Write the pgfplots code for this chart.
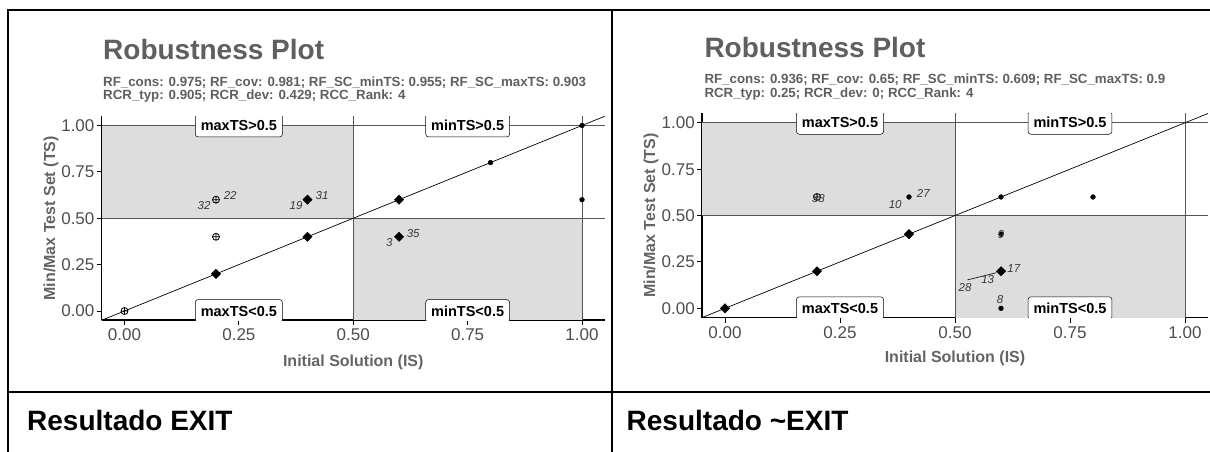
\documentclass[border=0pt]{standalone}
\usepackage{fontspec}
\setmainfont{Liberation Sans}
\usepackage{pgfplots}
\pgfplotsset{compat=1.18}
\usetikzlibrary{plotmarks}
\definecolor{titlegray}{RGB}{95,95,95}
\definecolor{subgray}{RGB}{95,95,95}
\definecolor{tickgray}{RGB}{77,77,77}
\definecolor{labgray}{RGB}{100,100,100}
\definecolor{regionfill}{RGB}{221,221,221}
\definecolor{refline}{RGB}{85,85,85}
\definecolor{ptlab}{RGB}{55,55,55}

\tikzset{
  qbox/.style={draw=black, line width=0.5pt, rounded corners=3pt, fill=white,
    font=\fontsize{14.5}{14.5}\selectfont\bfseries, text=black,
    inner xsep=5.5pt, minimum height=23pt},
}
\pgfplotsset{
  robstyle/.style={
    scale only axis,
    xmin=-0.05, xmax=1.05, ymin=-0.05, ymax=1.05,
    axis x line*=bottom, axis y line*=left,
    axis line style={-, black, line width=1.6pt},
    xtick={0,0.25,0.5,0.75,1}, ytick={0,0.25,0.5,0.75,1},
    xticklabels={0.00,0.25,0.50,0.75,1.00},
    yticklabels={0.00,0.25,0.50,0.75,1.00},
    tick align=outside, major tick length=5pt,
    tick style={black, line width=0.9pt},
    ticklabel style={font=\fontsize{17}{17}\selectfont, text=tickgray},
    yticklabel style={inner xsep=2pt},
    xlabel={Initial Solution (IS)}, ylabel={Min/Max Test Set (TS)},
    label style={font=\fontsize{16}{16}\selectfont\bfseries, text=labgray},
    clip=true,
  },
  dots/.style={only marks, mark=*, mark size=2.4pt, black},
  diam/.style={only marks, mark=square*, mark size=3.3pt, mark options={rotate=45}, black},
  oplusm/.style={only marks, mark=oplus, mark size=3.5pt, mark options={line width=0.8pt}, black},
  ptlabels/.style={draw=none, nodes near coords, point meta=explicit symbolic,
    every node near coord/.append style={anchor=center, inner sep=0pt,
      font=\fontsize{11.5}{11.5}\selectfont\itshape, text=ptlab}},
  region/.style={fill=regionfill, draw=none},
  rline/.style={refline, line width=0.8pt},
}

\begin{document}
\begin{tikzpicture}
\useasboundingbox (0pt,0pt) rectangle (1210pt,452pt);

% ---------------- Left panel: EXIT ----------------
\begin{axis}[robstyle,
  at={(101.6pt,131.7pt)}, anchor=south west,
  width=503.3pt, height=204.1pt,
  x label style={at={(axis description cs:0.5,-0.2043)}, anchor=center},
  y label style={at={(axis description cs:-0.1005,0.5)}, anchor=center},
]
\addplot[region] coordinates {(-0.05,0.5) (0.5,0.5) (0.5,1) (-0.05,1)} -- cycle;
\addplot[region] coordinates {(0.5,-0.05) (1,-0.05) (1,0.5) (0.5,0.5)} -- cycle;
\addplot[rline] coordinates {(-0.05,0.5) (1.05,0.5)};
\addplot[rline] coordinates {(-0.05,1) (1.05,1)};
\addplot[rline] coordinates {(0.5,-0.05) (0.5,1.05)};
\addplot[rline] coordinates {(1,-0.05) (1,1.05)};
\addplot[black, line width=0.7pt] coordinates {(-0.05,-0.05) (1.05,1.05)};
\addplot[dots] coordinates {(0.8,0.8) (1,1) (1,0.6)};
\addplot[diam] coordinates {(0.2,0.2) (0.4,0.4) (0.4,0.6) (0.6,0.6) (0.6,0.4)};
\addplot[oplusm] coordinates {(0,0) (0.2,0.6) (0.2,0.4)};
\addplot[ptlabels] table[meta=lab] {
x y lab
0.231 0.620 22
0.174 0.566 32
0.432 0.620 31
0.375 0.566 19
0.631 0.419 35
0.579 0.370 3
};
\node[qbox] at (axis cs:0.25,1) {maxTS>0.5};
\node[qbox] at (axis cs:0.75,1) {minTS>0.5};
\node[qbox] at (axis cs:0.25,0) {maxTS<0.5};
\node[qbox] at (axis cs:0.75,0) {minTS<0.5};
\end{axis}

% ---------------- Right panel: ~EXIT ----------------
\begin{axis}[robstyle,
  at={(702pt,134.4pt)}, anchor=south west,
  width=506pt, height=204.1pt,
  x label style={at={(axis description cs:0.5,-0.199)}, anchor=center},
  y label style={at={(axis description cs:-0.1008,0.5)}, anchor=center},
]
\addplot[region] coordinates {(-0.05,0.5) (0.5,0.5) (0.5,1) (-0.05,1)} -- cycle;
\addplot[region] coordinates {(0.5,-0.05) (1,-0.05) (1,0.5) (0.5,0.5)} -- cycle;
\addplot[rline] coordinates {(-0.05,0.5) (1.05,0.5)};
\addplot[rline] coordinates {(-0.05,1) (1.05,1)};
\addplot[rline] coordinates {(0.5,-0.05) (0.5,1.05)};
\addplot[rline] coordinates {(1,-0.05) (1,1.05)};
\addplot[black, line width=0.7pt] coordinates {(-0.05,-0.05) (1.05,1.05)};
\addplot[black, line width=0.6pt] coordinates {(0.527,0.153) (0.59,0.192)};
\addplot[dots] coordinates {(0.4,0.6) (0.6,0.6) (0.8,0.6) (0.6,0.4) (0.6,0.0)};
\addplot[diam] coordinates {(0,0) (0.2,0.2) (0.4,0.4) (0.6,0.2)};
\addplot[oplusm] coordinates {(0.2,0.6)};
\addplot[ptlabels] table[meta=lab] {
x y lab
0.203 0.591 38
0.431 0.618 27
0.370 0.562 10
0.628 0.215 17
0.571 0.155 13
0.522 0.111 28
0.598 0.048 8
0.600 0.395 9
};
\node[qbox] at (axis cs:0.25,1) {maxTS>0.5};
\node[qbox] at (axis cs:0.75,1) {minTS>0.5};
\node[qbox] at (axis cs:0.25,0) {maxTS<0.5};
\node[qbox] at (axis cs:0.75,0) {minTS<0.5};
\end{axis}

% ---------------- titles ----------------
\node[anchor=base west, inner sep=0pt, text=titlegray, font=\fontsize{28}{28}\selectfont\bfseries] at (103pt,392pt) {Robustness Plot};
\node[anchor=base west, inner sep=0pt, text=subgray, font=\fontsize{13.3}{13.3}\selectfont\bfseries] at (103pt,365.5pt) {RF\_cons: 0.975; RF\_cov: 0.981; RF\_SC\_minTS: 0.955; RF\_SC\_maxTS: 0.903};
\node[anchor=base west, inner sep=0pt, text=subgray, font=\fontsize{13.3}{13.3}\selectfont\bfseries] at (103pt,352pt) {RCR\_typ: 0.905; RCR\_dev: 0.429; RCC\_Rank: 4};

\node[anchor=base west, inner sep=0pt, text=titlegray, font=\fontsize{28}{28}\selectfont\bfseries] at (704.3pt,394.7pt) {Robustness Plot};
\node[anchor=base west, inner sep=0pt, text=subgray, font=\fontsize{13.3}{13.3}\selectfont\bfseries] at (704.3pt,368.2pt) {RF\_cons: 0.936; RF\_cov: 0.65; RF\_SC\_minTS: 0.609; RF\_SC\_maxTS: 0.9};
\node[anchor=base west, inner sep=0pt, text=subgray, font=\fontsize{13.3}{13.3}\selectfont\bfseries] at (704.3pt,354.7pt) {RCR\_typ: 0.25; RCR\_dev: 0; RCC\_Rank: 4};

% ---------------- table frame ----------------
\draw[line width=2pt] (8pt,0pt) -- (8pt,442pt) -- (1210pt,442pt);
\draw[line width=1.6pt] (611.7pt,0pt) -- (611.7pt,442pt);
\draw[line width=2pt] (8pt,60pt) -- (1210pt,60pt);

\node[anchor=base west, inner sep=0pt, font=\fontsize{28}{28}\selectfont\bfseries] at (27pt,21pt) {Resultado EXIT};
\node[anchor=base west, inner sep=0pt, font=\fontsize{28}{28}\selectfont\bfseries] at (626.5pt,21pt) {Resultado \textasciitilde EXIT};
\end{tikzpicture}
\end{document}
